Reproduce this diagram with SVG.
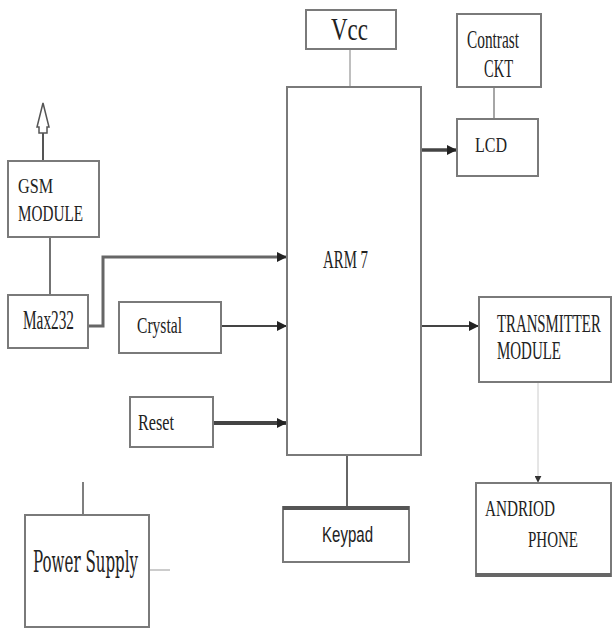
<svg xmlns="http://www.w3.org/2000/svg" width="613" height="629" viewBox="0 0 613 629">
<style>
.box{fill:#fff;stroke:#7a7a7a;stroke-width:2}
.t{font-family:"Liberation Serif","Times New Roman",serif;fill:#222}
.s{font-family:"Liberation Sans",Arial,sans-serif;fill:#222}
.c{fill:none;stroke:#555}
</style>
<defs>
<marker id="ah" markerUnits="userSpaceOnUse" markerWidth="10" markerHeight="10" viewBox="0 0 10 10" refX="9" refY="5" orient="auto">
<path d="M0,0 L10,5 L0,10 Z" fill="#222"/>
</marker>
<marker id="ahs" markerUnits="userSpaceOnUse" markerWidth="7" markerHeight="7" viewBox="0 0 10 10" refX="9" refY="5" orient="auto">
<path d="M0,0 L10,5 L0,10 Z" fill="#333"/>
</marker>
</defs>
<rect width="613" height="629" fill="#fff"/>
<g id="connectors">
<line class="c" x1="350" y1="49" x2="350" y2="87" style="stroke:#aaa" stroke-width="1.5"/>
<line class="c" x1="494" y1="87" x2="494" y2="119" style="stroke:#888" stroke-width="1.5"/>
<line class="c" x1="421" y1="150" x2="456" y2="150" stroke-width="3.5" style="stroke:#444" marker-end="url(#ah)"/>
<polyline class="c" points="88,326 103,326 103,257 286,257" stroke-width="3" style="stroke:#666" marker-end="url(#ah)"/>
<line class="c" x1="221" y1="326" x2="286" y2="326" stroke-width="2" style="stroke:#444" marker-end="url(#ah)"/>
<line class="c" x1="213" y1="423" x2="286" y2="423" stroke-width="4" style="stroke:#444" marker-end="url(#ah)"/>
<line class="c" x1="421" y1="326" x2="478" y2="326" stroke-width="2" style="stroke:#444" marker-end="url(#ah)"/>
<line class="c" x1="538" y1="382" x2="538" y2="482" stroke-width="1" style="stroke:#ccc" marker-end="url(#ahs)"/>
<line class="c" x1="347" y1="455" x2="347" y2="507" stroke-width="2" style="stroke:#666"/>
<line class="c" x1="50" y1="237" x2="50" y2="295" stroke-width="1.5" style="stroke:#444"/>
<line class="c" x1="43" y1="161" x2="43" y2="133" stroke-width="2" style="stroke:#555"/>
<path d="M43,103 L49,127 L47,127 L47,133 L39,133 L39,127 L37,127 Z" fill="#fff" stroke="#555" stroke-width="1.5"/>
<line class="c" x1="83" y1="482" x2="83" y2="515" stroke-width="1.5" style="stroke:#555"/>
<line class="c" x1="149" y1="570" x2="170" y2="570" stroke-width="1.5" style="stroke:#bbb"/>
</g>
<g id="vcc">
<rect class="box" x="306" y="10" width="90" height="39"/>
<text class="t" x="331" y="40" font-size="31" textLength="37" lengthAdjust="spacingAndGlyphs">Vcc</text>
</g>
<g id="contrast">
<rect class="box" x="457" y="14" width="84" height="73"/>
<text class="t" x="467" y="48" font-size="26" textLength="52" lengthAdjust="spacingAndGlyphs">Contrast</text>
<text class="t" x="484" y="77" font-size="25" textLength="29" lengthAdjust="spacingAndGlyphs">CKT</text>
</g>
<g id="lcd">
<rect class="box" x="457" y="119" width="81" height="57"/>
<text class="t" x="475" y="152" font-size="22" textLength="32" lengthAdjust="spacingAndGlyphs">LCD</text>
</g>
<g id="arm7">
<rect class="box" x="287" y="87" width="134" height="368"/>
<text class="t" x="323" y="268" font-size="25" textLength="45" lengthAdjust="spacingAndGlyphs">ARM 7</text>
</g>
<g id="gsm">
<rect class="box" x="8" y="161" width="91" height="76"/>
<text class="t" x="18" y="193" font-size="22" textLength="35" lengthAdjust="spacingAndGlyphs">GSM</text>
<text class="t" x="18" y="221" font-size="24" textLength="65" lengthAdjust="spacingAndGlyphs">MODULE</text>
</g>
<g id="max232">
<rect class="box" x="8" y="295" width="80" height="53"/>
<text class="t" x="23" y="329" font-size="27" textLength="51" lengthAdjust="spacingAndGlyphs">Max232</text>
</g>
<g id="crystal">
<rect class="box" x="119" y="302" width="102" height="51"/>
<text class="t" x="137" y="333" font-size="23" textLength="45" lengthAdjust="spacingAndGlyphs">Crystal</text>
</g>
<g id="reset">
<rect class="box" x="130" y="397" width="83" height="50"/>
<text class="t" x="138" y="430" font-size="24" textLength="36" lengthAdjust="spacingAndGlyphs">Reset</text>
</g>
<g id="transmitter">
<rect class="box" x="479" y="297" width="132" height="85"/>
<text class="t" transform="translate(497,332) scale(0.6,1)" x="0" y="0" font-size="25" textLength="173" lengthAdjust="spacingAndGlyphs">TRANSMITTER</text>
<text class="t" x="497" y="359" font-size="25" textLength="64" lengthAdjust="spacingAndGlyphs">MODULE</text>
</g>
<g id="android">
<rect class="box" x="476" y="483" width="135" height="93"/>
<line x1="476" y1="575" x2="611" y2="575" stroke="#666" stroke-width="4"/>
<text class="t" x="485" y="516" font-size="24" textLength="70" lengthAdjust="spacingAndGlyphs">ANDRIOD</text>
<text class="t" x="528" y="547" font-size="24" textLength="50" lengthAdjust="spacingAndGlyphs">PHONE</text>
</g>
<g id="keypad">
<rect class="box" x="283" y="507" width="126" height="55"/>
<line x1="283" y1="508" x2="409" y2="508" stroke="#555" stroke-width="4"/>
<text class="s" x="322" y="542" font-size="22" textLength="51" lengthAdjust="spacingAndGlyphs">Keypad</text>
</g>
<g id="power">
<rect class="box" x="25" y="515" width="124" height="112"/>
<text class="t" x="33" y="572" font-size="30" textLength="105" lengthAdjust="spacingAndGlyphs" style="font-family:'DejaVu Serif','Liberation Serif',serif">Power Supply</text>
</g>
</svg>
